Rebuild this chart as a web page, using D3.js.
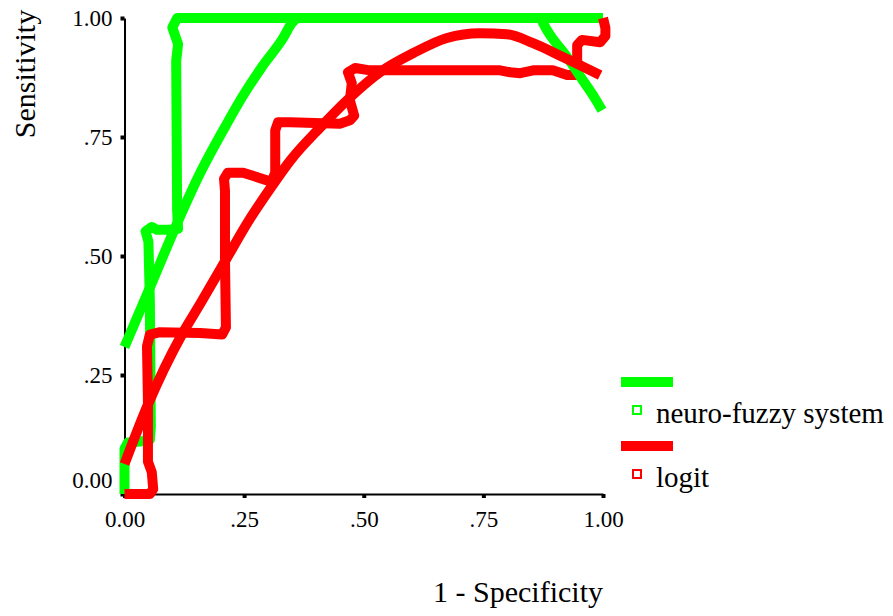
<!DOCTYPE html>
<html>
<head>
<meta charset="utf-8">
<script src="https://cdn.jsdelivr.net/npm/d3@7"></script>
<style>
  body { margin: 0; background: #fff; }
  svg { display: block; font-family: 'Liberation Serif', 'Times New Roman', serif; }
</style>
</head>
<body>
<svg id="chart" width="893" height="616"></svg>
<script>
// ROC step curve + fitted curve for each model, values as [1 - specificity, sensitivity]
var nfStep = [
  [0, 0], [0, 0.095], [0.007, 0.108], [0.032, 0.11], [0.053, 0.114], [0.055, 0.141],
  [0.053, 0.405], [0.05, 0.53], [0.044, 0.552], [0.057, 0.561], [0.068, 0.555],
  [0.095, 0.555], [0.112, 0.557], [0.11, 0.595], [0.108, 0.91], [0.112, 0.945],
  [0.1, 0.98], [0.11, 1], [0.158, 1], [0.22, 1], [1, 1]
]
var nfFit = [
  [0, 0.309], [0.057, 0.443], [0.11, 0.569], [0.154, 0.666], [0.21, 0.771],
  [0.246, 0.834], [0.287, 0.897], [0.329, 0.954], [0.352, 0.992], [0.363, 1], [0.87, 1],
  [0.875, 0.989], [0.925, 0.918], [0.958, 0.869], [0.979, 0.838], [0.998, 0.806]
]
var logitStep = [
  [0, 0], [0.03, 0], [0.053, 0], [0.06, 0.01], [0.057, 0.046], [0.049, 0.068],
  [0.049, 0.194], [0.047, 0.31], [0.053, 0.335], [0.074, 0.34], [0.158, 0.338],
  [0.204, 0.335], [0.212, 0.35], [0.21, 0.489], [0.21, 0.637], [0.208, 0.662],
  [0.216, 0.675], [0.248, 0.675], [0.273, 0.667], [0.3, 0.658], [0.308, 0.658],
  [0.315, 0.675], [0.315, 0.764], [0.321, 0.781], [0.346, 0.781], [0.45, 0.778],
  [0.471, 0.785], [0.48, 0.795], [0.471, 0.827], [0.475, 0.863], [0.467, 0.886],
  [0.482, 0.895], [0.513, 0.89], [0.785, 0.89], [0.806, 0.886], [0.827, 0.884],
  [0.854, 0.89], [0.895, 0.89], [0.925, 0.88], [0.946, 0.88], [0.946, 0.943],
  [0.956, 0.954], [0.994, 0.949], [1.005, 0.962], [1.005, 0.979], [1, 1]
]
var logitFit = [
  [0, 0.063], [0.049, 0.188], [0.12, 0.335], [0.158, 0.399], [0.21, 0.489],
  [0.262, 0.578], [0.304, 0.641], [0.346, 0.7], [0.409, 0.77], [0.465, 0.827],
  [0.534, 0.886], [0.603, 0.926], [0.674, 0.958], [0.743, 0.968], [0.799, 0.966],
  [0.854, 0.947], [0.916, 0.918], [0.994, 0.88]
]
var tickValues = [0, 0.25, 0.5, 0.75, 1]
var tickLabels = ['0.00', '.25', '.50', '.75', '1.00']
var seriesNames = ['neuro-fuzzy system', 'logit']
var seriesColors = ['#00ff00', '#ff0000']

var svg = d3.select('#chart')

var x = d3.scaleLinear().domain([0, 1]).range([124.5, 603])
var y = d3.scaleLinear().domain([0, 1]).range([494, 18])

function fmt(d) {
  return tickLabels[tickValues.indexOf(d)]
}

// x axis
var gx = svg.append('g')
  .attr('transform', 'translate(0,494)')
  .call(d3.axisBottom(x).tickValues(tickValues).tickFormat(fmt).tickSize(4).tickSizeOuter(0))
gx.select('.domain').attr('stroke', '#000').attr('stroke-width', 2)
gx.selectAll('.tick line').attr('stroke', '#000').attr('stroke-width', 4)
gx.selectAll('.tick text')
  .attr('y', 33).attr('dy', 0)
  .attr('font-size', 23).attr('font-family', 'Liberation Serif').attr('fill', '#000')

// y axis
var gy = svg.append('g')
  .attr('transform', 'translate(124.5,0)')
  .call(d3.axisLeft(y).tickValues(tickValues).tickFormat(fmt).tickSize(4).tickSizeOuter(0).tickPadding(8))
gy.select('.domain').attr('stroke', '#000').attr('stroke-width', 2)
gy.selectAll('.tick line').attr('stroke', '#000').attr('stroke-width', 4)
gy.selectAll('.tick text')
  .attr('font-size', 23).attr('font-family', 'Liberation Serif').attr('fill', '#000')
  .attr('dy', function (d) { return d === 0 ? '-0.3em' : '0.32em' })

// curves: steps drawn straight, fitted lines smooth
var stepLine = d3.line()
  .x(function (d) { return x(d[0]) })
  .y(function (d) { return y(d[1]) })

var fitLine = d3.line()
  .curve(d3.curveMonotoneX)
  .x(function (d) { return x(d[0]) })
  .y(function (d) { return y(d[1]) })

var curves = [
  { data: nfStep, color: seriesColors[0], gen: stepLine },
  { data: logitStep, color: seriesColors[1], gen: stepLine },
  { data: nfFit, color: seriesColors[0], gen: fitLine },
  { data: logitFit, color: seriesColors[1], gen: fitLine }
]

svg.append('g').selectAll('path')
  .data(curves)
  .enter()
  .append('path')
  .attr('d', function (d) { return d.gen(d.data) })
  .attr('fill', 'none')
  .attr('stroke', function (d) { return d.color })
  .attr('stroke-width', 10)
  .attr('stroke-linejoin', 'round')
  .attr('stroke-linecap', 'butt')

// axis titles
svg.append('text')
  .attr('transform', 'translate(35,74) rotate(-90)')
  .attr('text-anchor', 'middle')
  .attr('font-size', 30)
  .text('Sensitivity')

svg.append('text')
  .attr('x', 518)
  .attr('y', 602)
  .attr('text-anchor', 'middle')
  .attr('font-size', 30)
  .text('1 - Specificity')

// legend
var legend = svg.append('g').selectAll('g')
  .data(seriesNames)
  .enter()
  .append('g')
  .attr('transform', function (d, i) { return 'translate(0,' + (i * 64) + ')' })

legend.append('line')
  .attr('x1', 621).attr('x2', 673)
  .attr('y1', 382).attr('y2', 382)
  .attr('stroke', function (d, i) { return seriesColors[i] })
  .attr('stroke-width', 10)

legend.append('rect')
  .attr('x', 633).attr('y', 406)
  .attr('width', 8).attr('height', 8)
  .attr('fill', 'none')
  .attr('stroke', function (d, i) { return seriesColors[i] })
  .attr('stroke-width', 2)

legend.append('text')
  .attr('x', 656)
  .attr('y', 423)
  .attr('font-size', 29)
  .text(function (d) { return d })
</script>
</body>
</html>
